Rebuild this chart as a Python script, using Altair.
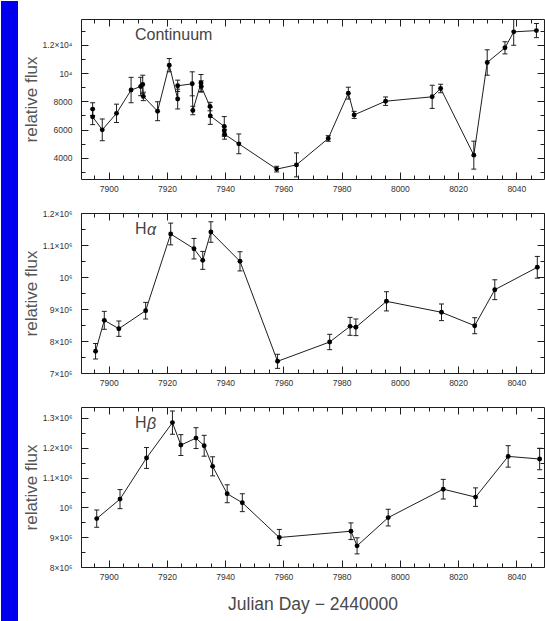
import altair as alt
import pandas as pd

# ---------------- data ----------------
cont_day = [7894.5, 7894.5, 7897.8, 7902.7, 7907.7, 7911.0, 7911.7, 7911.9, 7916.8,
            7920.8, 7923.7, 7923.7, 7928.7, 7928.9, 7931.7, 7931.8, 7934.8, 7934.9,
            7939.7, 7939.7, 7939.8, 7944.7, 7957.7, 7964.5, 7975.4, 7982.3, 7984.3,
            7995.1, 8011.1, 8014.0, 8025.4, 8030.0, 8036.1, 8039.1, 8046.9]
cont_flux = [7450, 6900, 5980, 7150, 8800, 9050, 9200, 8350, 7300,
             10560, 8160, 9100, 9240, 7350, 9300, 9050, 7630, 6970,
             6220, 5910, 5670, 4990, 3200, 3500, 5370, 8580, 7040,
             8010, 8320, 8910, 4190, 10750, 11790, 12920, 13010]
cont_err = [450, 550, 770, 650, 900, 650, 650, 300, 670,
            470, 700, 400, 850, 300, 600, 400, 300, 600,
            700, 300, 350, 700, 200, 850, 200, 420, 250,
            300, 820, 300, 990, 900, 430, 950, 500]

ha_day = [7895.5, 7898.5, 7903.5, 7912.7, 7921.3, 7929.3, 7932.3, 7935.1, 7945.1,
          7958.0, 7975.9, 7982.9, 7984.9, 7995.4, 8014.3, 8025.7, 8032.6, 8047.2]
ha_flux = [767800, 864600, 838500, 894700, 1134400, 1088500, 1052000, 1140600, 1049000,
           736500, 796900, 845800, 842800, 924000, 889700, 847800, 960300, 1030300]
ha_err = [24000, 28000, 24000, 26000, 34000, 32000, 28000, 32000, 30000,
          22000, 24000, 28000, 26000, 30000, 26000, 25000, 31000, 34000]

hb_day = [7895.9, 7903.9, 7913.0, 7921.9, 7924.8, 7930.0, 7932.8, 7935.7, 7940.7,
          7945.9, 7958.6, 7983.2, 7985.3, 7996.0, 8014.9, 8026.0, 8037.2, 8048.0]
hb_flux = [962300, 1027700, 1165700, 1284300, 1209000, 1232300, 1206700, 1137700, 1045700,
           1015700, 899000, 920000, 871000, 965700, 1061000, 1034400, 1171000, 1162300]
hb_err = [29000, 32000, 35000, 39000, 35000, 35000, 35000, 32000, 30000,
          30000, 27000, 28000, 27000, 28000, 33000, 31000, 36000, 36000]

panel_names = ["Continuum", "H", "H"]
panel_greek = ["", "α", "β"]
x_title = "Julian Day − 2440000"
y_title = "relative flux"

x_major = [7900, 7920, 7940, 7960, 7980, 8000, 8020, 8040]
cont_major = [4000, 6000, 8000, 10000, 12000]
ha_major = [700000, 800000, 900000, 1000000, 1100000, 1200000]
hb_major = [800000, 900000, 1000000, 1100000, 1200000, 1300000]

# ---------------- styling ----------------
FONT = "Liberation Sans"
INK = "#1e1e1e"
TXT = "#333333"
W, H = 463, 160
X_DOMAIN = [7890.5, 8049.5]

x_minor = [v for v in range(7895, 8050, 5) if v % 20 != 0]


def minor_of(lo, hi, step, major):
    out = []
    v = lo
    while v <= hi:
        if all(abs(v - m) > 1e-6 for m in major):
            out.append(v)
        v += step
    return out


cont_expr = ("datum.value == 10000 ? '10⁴' : datum.value == 12000 ? '1.2×10⁴' : "
             "format(datum.value, 'd')")
big_expr = ("datum.value == 1000000 ? '10⁶' : datum.value > 1000000 ? "
            "format(datum.value / 1000000, '.1f') + '×10⁶' : "
            "format(datum.value / 100000, 'd') + '×10⁵'")


def panel(day, flux, err, y_domain, y_major, y_minor, y_expr, name, greek,
          greek_dx, show_xtitle, strip=False):
    df = pd.DataFrame({"day": day, "flux": flux, "err": err})
    df["lo"] = df["flux"] - df["err"]
    df["hi"] = df["flux"] + df["err"]
    df["order"] = list(range(len(df)))
    base = alt.Chart(df)
    xs = alt.Scale(domain=X_DOMAIN, nice=False, zero=False)
    ys = alt.Scale(domain=y_domain, nice=False, zero=False)

    x_axis_kw = dict(values=x_major, format="d", ticks=False, tickSize=0, domain=False,
                     grid=False, labelPadding=5, labelFontSize=8.5, labelFont=FONT,
                     labelColor=TXT)
    if show_xtitle:
        x_axis_kw.update(title=x_title, titleFontSize=17.5, titlePadding=15,
                         titleFont=FONT, titleColor="#484848", titleFontWeight="normal")
    else:
        x_axis_kw.update(title=None)

    y_axis = alt.Axis(values=y_major, labelExpr=y_expr, ticks=False, tickSize=0,
                      domain=False, grid=False, labelPadding=9, labelFontSize=8.5,
                      labelFont=FONT, labelColor=TXT, title=y_title, titleFontSize=17,
                      titleFont=FONT, titleColor="#555555", titleFontWeight="normal",
                      titleX=-41, titleY=H / 2)

    line = base.mark_line(color=INK, strokeWidth=1, clip=True).encode(
        x=alt.X("day:Q", scale=xs, axis=alt.Axis(**x_axis_kw)),
        y=alt.Y("flux:Q", scale=ys, axis=y_axis),
        order="order:Q",
    )
    bars = base.mark_rule(color=INK, strokeWidth=1, clip=True).encode(
        x=alt.X("day:Q", scale=xs, axis=None),
        y=alt.Y("lo:Q", scale=ys, axis=None),
        y2="hi:Q",
    )
    cap_lo = base.mark_tick(orient="horizontal", size=5, thickness=1, color=INK,
                            clip=True, opacity=1).encode(
        x=alt.X("day:Q", scale=xs, axis=None),
        y=alt.Y("lo:Q", scale=ys, axis=None),
    )
    cap_hi = base.mark_tick(orient="horizontal", size=5, thickness=1, color=INK,
                            clip=True, opacity=1).encode(
        x=alt.X("day:Q", scale=xs, axis=None),
        y=alt.Y("hi:Q", scale=ys, axis=None),
    )
    pts = base.mark_circle(size=24, color="black", opacity=1, clip=True).encode(
        x=alt.X("day:Q", scale=xs, axis=None),
        y=alt.Y("flux:Q", scale=ys, axis=None),
    )

    def tick_layer(xo, yo, xv, yv, size):
        return base.mark_point(opacity=0).encode(
            x=alt.X("day:Q", scale=xs,
                    axis=alt.Axis(orient=xo, values=xv, labels=False, domain=False,
                                  grid=False, ticks=True, tickSize=size, offset=-size,
                                  tickColor=INK, tickWidth=1, title=None)),
            y=alt.Y("flux:Q", scale=ys,
                    axis=alt.Axis(orient=yo, values=yv, labels=False, domain=False,
                                  grid=False, ticks=True, tickSize=size, offset=-size,
                                  tickColor=INK, tickWidth=1, title=None)),
        )

    t1 = tick_layer("bottom", "left", x_major, y_major, 7)
    t2 = tick_layer("bottom", "left", x_minor, y_minor, 4)
    t3 = tick_layer("top", "right", x_major, y_major, 7)
    t4 = tick_layer("top", "right", x_minor, y_minor, 4)

    lab_df = pd.DataFrame({"t": [name], "g": [greek]})
    lab = alt.Chart(lab_df).mark_text(align="left", baseline="middle", font=FONT,
                                      fontSize=16, color="#444444").encode(
        text="t:N", x=alt.value(54), y=alt.value(16))
    layers = [bars, cap_lo, cap_hi, line, pts, t1, t2, t3, t4, lab]
    if greek:
        glab = alt.Chart(lab_df).mark_text(align="left", baseline="middle", font=FONT,
                                           fontSize=16, fontStyle="italic",
                                           color="#444444").encode(
            text="g:N", x=alt.value(54 + greek_dx), y=alt.value(17))
        layers.append(glab)
    if strip:
        sdf = pd.DataFrame({"s": [0]})
        layers.insert(0, alt.Chart(sdf).mark_rect(color="#0000ee", clip=False).encode(
            x=alt.value(-80), x2=alt.value(-63), y=alt.value(-18), y2=alt.value(603)))
    return alt.layer(*layers).resolve_axis(x="independent", y="independent").properties(
        width=W, height=H)


p1 = panel(cont_day, cont_flux, cont_err, [2500, 13830], cont_major,
           minor_of(3000, 13000, 1000, cont_major), cont_expr,
           panel_names[0], panel_greek[0], 0, False, strip=True)
p2 = panel(ha_day, ha_flux, ha_err, [700000, 1200000], ha_major,
           minor_of(750000, 1150000, 50000, ha_major), big_expr,
           panel_names[1], panel_greek[1], 12, False)
p3 = panel(hb_day, hb_flux, hb_err, [800000, 1336700], hb_major,
           minor_of(850000, 1300000, 50000, hb_major), big_expr,
           panel_names[2], panel_greek[2], 12, True)

chart = alt.vconcat(p1, p2, p3, spacing=34, bounds="flush").properties(
    padding=0, background="white"
).configure_view(stroke=INK, strokeWidth=1)

chart.save("out.html", embed_options={"renderer": "svg", "actions": False})
